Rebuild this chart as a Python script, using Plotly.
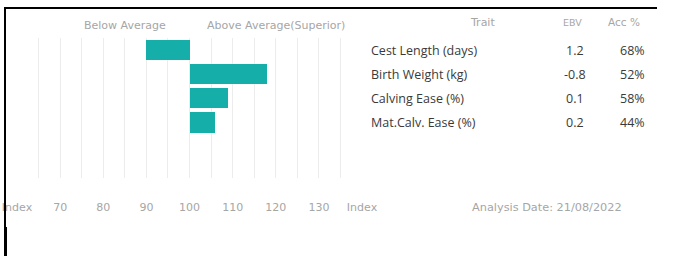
import plotly.graph_objects as go

traits = ["Cest Length (days)", "Birth Weight (kg)", "Calving Ease (%)", "Mat.Calv. Ease (%)"]
index_values = [90, 118, 109, 106]
ebv = ["1.2", "-0.8", "0.1", "0.2"]
acc = ["68%", "52%", "58%", "44%"]
tick_vals = [60, 70, 80, 90, 100, 110, 120, 130, 140]
tick_text = ["Index", "70", "80", "90", "100", "110", "120", "130", "Index"]
base_index = 100

W, H = 676, 256
PLOT_X0, PLOT_X1, PLOT_Y0, PLOT_Y1 = 17, 362, 38, 178

def px(x):
    return x / W

def py(y):
    return 1 - y / H

FONT = "Open Sans"
SMALL = "DejaVu Sans"
GRAY = "#a6a6a6"
DARK = "#3a3a3a"
TEAL = "#16aea9"

fig = go.Figure()
fig.add_trace(go.Bar(
    y=list(range(len(traits))),
    x=[v - base_index for v in index_values],
    base=base_index,
    orientation="h",
    width=0.83,
    marker=dict(color=TEAL, line=dict(width=0)),
    hoverinfo="skip",
))

ann = []
for i, t in enumerate(traits):
    ann.append(dict(text=t, x=px(369), y=i, xref="paper", yref="y", xanchor="left", yanchor="middle",
                    showarrow=False, font=dict(family=FONT, size=12.5, color=DARK)))
    ann.append(dict(text=ebv[i], x=px(575), y=i, xref="paper", yref="y", xanchor="center", yanchor="middle",
                    showarrow=False, font=dict(family=FONT, size=12.5, color=DARK)))
    ann.append(dict(text=acc[i], x=px(632), y=i, xref="paper", yref="y", xanchor="center", yanchor="middle",
                    showarrow=False, font=dict(family=FONT, size=12.5, color=DARK)))

def small(text, x, y, size=11, color=GRAY):
    return dict(text=text, x=px(x), y=py(y), xref="paper", yref="paper", xanchor="center", yanchor="middle",
                showarrow=False, font=dict(family=SMALL, size=size, color=color))

ann += [
    small("Below Average", 125, 25),
    small("Above Average(Superior)", 276, 25),
    small("Trait", 482, 22),
    small("EBV", 572, 22, size=9.5),
    small("Acc %", 624, 22, size=10.5),
    small("Analysis Date: 21/08/2022", 547, 207, size=11.3),
]

shapes = [
    dict(type="rect", xref="paper", yref="paper", x0=px(4), x1=px(657), y0=py(9), y1=py(7),
         fillcolor="black", line=dict(width=0), layer="above"),
    dict(type="rect", xref="paper", yref="paper", x0=px(4), x1=px(6), y0=py(228), y1=py(7),
         fillcolor="black", line=dict(width=0), layer="above"),
    dict(type="rect", xref="paper", yref="paper", x0=px(4), x1=px(7), y0=py(256), y1=py(227),
         fillcolor="black", line=dict(width=0), layer="above"),
]

fig.update_layout(
    width=W, height=H,
    margin=dict(l=0, r=0, t=0, b=0, pad=0, autoexpand=False),
    paper_bgcolor="white", plot_bgcolor="white",
    showlegend=False,
    bargap=0,
    annotations=ann,
    shapes=shapes,
    xaxis=dict(domain=[PLOT_X0 / W, PLOT_X1 / W],
               range=[60, 140], tickvals=tick_vals, ticktext=tick_text,
               showgrid=True, gridcolor="#ececec", gridwidth=1,
               minor=dict(dtick=5, showgrid=True, gridcolor="#ececec", gridwidth=1),
               zeroline=False, showline=False, ticks="", automargin=False,
               ticklabelstandoff=21,
               tickfont=dict(family=SMALL, size=11, color=GRAY), fixedrange=True),
    yaxis=dict(domain=[1 - PLOT_Y1 / H, 1 - PLOT_Y0 / H],
               range=[5.3, -0.5], showgrid=False, zeroline=False, showticklabels=False,
               showline=False, ticks="", fixedrange=True, automargin=False),
)

fig.write_html("out.html", config={"displayModeBar": False},
               post_script="document.body.style.margin='0';")
